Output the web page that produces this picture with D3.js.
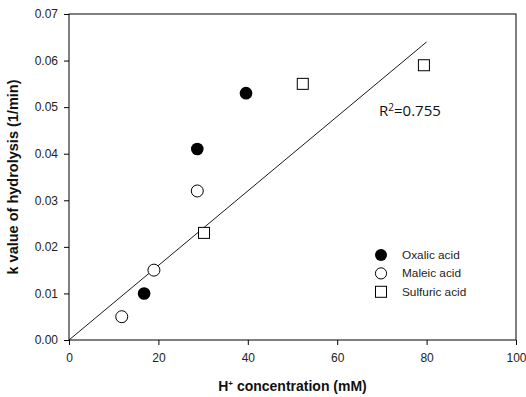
<!DOCTYPE html>
<html>
<head>
<meta charset="utf-8">
<script src="https://cdn.jsdelivr.net/npm/d3@7"></script>
<style>
  body { margin: 0; background: #fff; }
  svg { display: block; }
</style>
</head>
<body>
<div id="chart"></div>
<script>
// data
const oxalicX = [16.8, 28.7, 39.6];
const oxalicY = [0.010, 0.041, 0.053];
const maleicX = [11.8, 19.0, 28.7];
const maleicY = [0.005, 0.015, 0.032];
const sulfuricX = [30.2, 52.3, 79.4];
const sulfuricY = [0.023, 0.055, 0.059];
const fitX = [0, 80];
const fitSlope = 0.0008;
const xTicks = [0, 20, 40, 60, 80, 100];
const yTicks = [0, 0.01, 0.02, 0.03, 0.04, 0.05, 0.06, 0.07];
const seriesNames = ['Oxalic acid', 'Maleic acid', 'Sulfuric acid'];

const width = 526;
const height = 397;
const margin = { top: 14, right: 10, bottom: 57, left: 69 };
const w = width - margin.left - margin.right;
const h = height - margin.top - margin.bottom;

const svg = d3.select('#chart')
  .append('svg')
  .attr('width', width)
  .attr('height', height);

const g = svg.append('g')
  .attr('transform', `translate(${margin.left},${margin.top})`);

const x = d3.scaleLinear().domain([0, 100]).range([0, w]);
const y = d3.scaleLinear().domain([0, 0.07]).range([h, 0]);

// frame
g.append('rect')
  .attr('width', w)
  .attr('height', h)
  .attr('fill', 'none')
  .attr('stroke', '#000')
  .attr('stroke-width', 1);

const xAxis = g.append('g')
  .attr('transform', `translate(0,${h})`)
  .call(d3.axisBottom(x).tickValues(xTicks).tickSize(5).tickPadding(8).tickFormat(d3.format('d')));
const yAxis = g.append('g')
  .call(d3.axisLeft(y).tickValues(yTicks).tickSize(5).tickPadding(6).tickFormat(d3.format('.2f')));

[xAxis, yAxis].forEach((ax) => {
  ax.select('.domain').remove();
  ax.selectAll('.tick line').attr('stroke', '#000');
  ax.selectAll('.tick text')
    .attr('fill', '#222')
    .style('font-family', '"Liberation Sans", Arial, sans-serif')
    .style('font-size', '12px');
});

// regression line
g.append('line')
  .attr('x1', x(fitX[0]))
  .attr('y1', y(fitX[0] * fitSlope))
  .attr('x2', x(fitX[1]))
  .attr('y2', y(fitX[1] * fitSlope))
  .attr('stroke', '#000')
  .attr('stroke-width', 0.9);

const zip = (xs, ys) => xs.map((v, i) => ({ x: v, y: ys[i] }));

g.selectAll('.oxalic')
  .data(zip(oxalicX, oxalicY))
  .enter()
  .append('circle')
  .attr('class', 'oxalic')
  .attr('cx', (d) => x(d.x))
  .attr('cy', (d) => y(d.y))
  .attr('r', 6.3)
  .attr('fill', '#000');

g.selectAll('.maleic')
  .data(zip(maleicX, maleicY))
  .enter()
  .append('circle')
  .attr('class', 'maleic')
  .attr('cx', (d) => x(d.x))
  .attr('cy', (d) => y(d.y))
  .attr('r', 6)
  .attr('fill', '#fff')
  .attr('stroke', '#000')
  .attr('stroke-width', 1);

g.selectAll('.sulfuric')
  .data(zip(sulfuricX, sulfuricY))
  .enter()
  .append('rect')
  .attr('class', 'sulfuric')
  .attr('x', (d) => x(d.x) - 5.5)
  .attr('y', (d) => y(d.y) - 5.5)
  .attr('width', 11)
  .attr('height', 11)
  .attr('fill', '#fff')
  .attr('stroke', '#000')
  .attr('stroke-width', 1);

// R squared label
const r2 = g.append('text')
  .attr('x', 310)
  .attr('y', 102)
  .attr('fill', '#111')
  .style('font-family', '"Open Sans", "Liberation Sans", sans-serif')
  .style('font-size', '15px');
r2.append('tspan').text('R');
r2.append('tspan').attr('dy', -5).style('font-size', '10px').text('2');
r2.append('tspan').attr('dy', 5).text('=0.755');

// legend
const legend = g.append('g').attr('transform', 'translate(312,241)');
seriesNames.forEach((name, i) => {
  const row = legend.append('g').attr('transform', `translate(0,${i * 18.4})`);
  if (i === 0) {
    row.append('circle').attr('r', 6).attr('fill', '#000');
  } else if (i === 1) {
    row.append('circle').attr('r', 5.6).attr('fill', '#fff').attr('stroke', '#000');
  } else {
    row.append('rect').attr('x', -5.5).attr('y', -5.5).attr('width', 11).attr('height', 11)
      .attr('fill', '#fff').attr('stroke', '#000');
  }
  row.append('text')
    .attr('x', 21)
    .attr('y', 4)
    .attr('fill', '#222')
    .style('font-family', '"Liberation Sans", Arial, sans-serif')
    .style('font-size', '11.8px')
    .text(name);
});

// axis titles
const xTitle = svg.append('text')
  .attr('x', margin.left + w / 2)
  .attr('y', 391)
  .attr('text-anchor', 'middle')
  .attr('fill', '#111')
  .style('font-family', '"Liberation Sans", Arial, sans-serif')
  .style('font-size', '14px')
  .style('font-weight', 'bold');
xTitle.append('tspan').text('H');
xTitle.append('tspan').attr('dy', -5).style('font-size', '8px').text('+');
xTitle.append('tspan').attr('dy', 5).text(' concentration (mM)');

svg.append('text')
  .attr('transform', `translate(18,${margin.top + h / 2}) rotate(-90)`)
  .attr('text-anchor', 'middle')
  .attr('fill', '#111')
  .style('font-family', '"Liberation Sans", Arial, sans-serif')
  .style('font-size', '14.5px')
  .style('font-weight', 'bold')
  .text('k value of hydrolysis (1/min)');
</script>
</body>
</html>
